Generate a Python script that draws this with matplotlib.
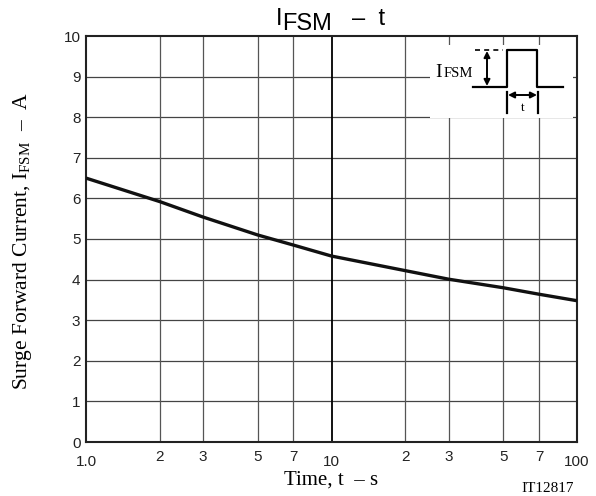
import numpy as np
import matplotlib
matplotlib.use("Agg")
import matplotlib.pyplot as plt
from matplotlib.patches import Rectangle, FancyArrowPatch
from matplotlib.lines import Line2D

plt.rcParams['mathtext.fontset'] = 'custom'
plt.rcParams['mathtext.rm'] = 'Liberation Serif'

# surge forward current vs time
time_s = [1, 2, 3, 5, 7, 10, 20, 30, 50, 70, 100]
ifsm_a = [6.5, 5.92, 5.54, 5.1, 4.85, 4.58, 4.22, 4.01, 3.80, 3.64, 3.48]

major_ticks = [1, 10, 100]
major_labels = ['1.0', '10', '100']
minor_ticks = [2, 3, 5, 7, 20, 30, 50, 70]
minor_labels = ['2', '3', '5', '7', '2', '3', '5', '7']
y_ticks = list(range(0, 11))

W, H = 596, 496
SANS = 'Liberation Sans'
SERIF = 'Liberation Serif'


def fx(x):
    return x / W


def fy(y):
    return 1 - y / H


fig = plt.figure(figsize=(W / 100, H / 100), dpi=100)
ax = fig.add_axes([fx(86), fy(442), fx(577) - fx(86), fy(36) - fy(442)])

# grid drawn by hand so the 10 s line can be darker
for v in y_ticks[1:-1]:
    ax.axhline(v, color='#444444', lw=0.9, zorder=1)
for v in minor_ticks:
    ax.axvline(v, color='#555555', lw=0.9, zorder=1)
ax.axvline(10, color='black', lw=1.3, zorder=1)

ax.plot(time_s, ifsm_a, color='#111111', lw=2.4, solid_capstyle='butt', zorder=3)

ax.set_xscale('log')
ax.set_xlim(1, 100)
ax.set_ylim(0, 10)

ax.set_xticks(major_ticks)
ax.set_xticklabels(major_labels)
ax.set_xticks(minor_ticks, minor=True)
ax.set_xticklabels(minor_labels, minor=True)
ax.set_yticks(y_ticks)

ax.tick_params(axis='x', which='major', length=0, pad=9, labelsize=11, labelcolor='#222222')
ax.tick_params(axis='x', which='minor', length=0, pad=5.5, labelsize=11, labelcolor='#222222')
ax.tick_params(axis='y', length=0, pad=4, labelsize=11, labelcolor='#222222')
for lab in ax.get_xticklabels(which='both') + ax.get_yticklabels():
    lab.set_fontfamily(SANS)

for sp in ax.spines.values():
    sp.set_linewidth(1.5)
    sp.set_color('#222222')

# title pieces
fig.text(fx(276), fy(25), 'I', family=SANS, fontsize=17, va='baseline', ha='left')
fig.text(fx(282), fy(30), 'FSM', family=SANS, fontsize=17, va='baseline', ha='left')
fig.text(fx(352), fy(25), '–  t', family=SANS, fontsize=17, va='baseline', ha='left')

# axis labels
fig.text(fx(331), fy(480), 'Time, t  – s', family=SERIF, fontsize=15,
         ha='center', va='center')
fig.text(fx(23), fy(241), r'Surge Forward Current, I$_{\rm FSM}$  –  A', family=SERIF,
         fontsize=15.5, rotation=90, ha='center', va='center')
fig.text(fx(548), fy(489), 'IT12817', family=SERIF, fontsize=11, ha='center', va='center')

# pulse inset
fig.add_artist(Rectangle((fx(430), fy(118)), fx(573) - fx(430), fy(45) - fy(118),
                         transform=fig.transFigure, facecolor='white',
                         edgecolor='none', zorder=5))


def seg(xs, ys, **kw):
    fig.add_artist(Line2D([fx(x) for x in xs], [fy(y) for y in ys],
                          transform=fig.transFigure, color='black', zorder=6, **kw))


seg([473, 507, 507, 537, 537, 563], [87, 87, 50, 50, 87, 87], lw=1.6)
seg([475, 503], [50, 50], lw=1.2, linestyle=(0, (3, 2.5)))
seg([507, 507], [92, 113], lw=1.6)
seg([538, 538], [92, 113], lw=1.6)

for a, b in [((487, 51), (487, 86)), ((508, 95), (537, 95))]:
    fig.add_artist(FancyArrowPatch((fx(a[0]), fy(a[1])), (fx(b[0]), fy(b[1])),
                                   transform=fig.transFigure, arrowstyle='<|-|>',
                                   mutation_scale=9, lw=1.4, color='black',
                                   shrinkA=0, shrinkB=0, zorder=6))

fig.text(fx(435), fy(77), 'I', family=SERIF, fontsize=14, va='baseline', ha='left', zorder=7)
fig.text(fx(443.5), fy(77), 'FSM', family=SERIF, fontsize=10.5, va='baseline', ha='left', zorder=7)
fig.text(fx(523), fy(108), 't', family=SERIF, fontsize=9.5, va='center', ha='center', zorder=7)

fig.savefig('out.png', dpi=100)
